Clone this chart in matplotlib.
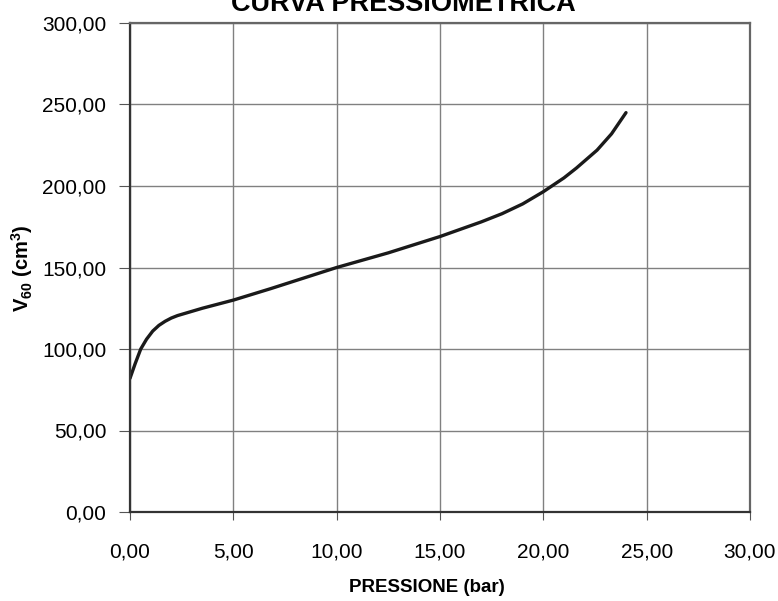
import matplotlib
matplotlib.use('Agg')
import matplotlib.pyplot as plt
from matplotlib.ticker import FuncFormatter, MultipleLocator

plt.rcParams['font.family'] = ['Liberation Sans', 'DejaVu Sans']
plt.rcParams['mathtext.fontset'] = 'custom'
plt.rcParams['mathtext.rm'] = 'Liberation Sans:bold'
plt.rcParams['mathtext.it'] = 'Liberation Sans:bold'
plt.rcParams['mathtext.bf'] = 'Liberation Sans:bold'

# curve
pressione = [0.0, 0.25, 0.52, 0.8, 1.1, 1.4, 1.7, 2.0, 2.3, 3.5, 5.0, 6.8,
             10.0, 12.5, 15.0, 17.0, 18.0, 19.0, 20.0, 21.0, 21.6, 22.6, 23.3, 24.0]
volume = [82.0, 91.0, 100.0, 106.0, 111.0, 114.5, 117.0, 119.0, 120.5, 125.0, 130.0, 137.0,
          150.0, 159.0, 169.0, 178.0, 183.0, 189.0, 196.5, 205.0, 211.0, 222.0, 232.0, 245.0]

fig = plt.figure(figsize=(7.78, 6.01), dpi=100)
ax = fig.add_axes([130/778, 89/601, 620/778, 489/601])

ax.plot(pressione, volume, color='#1a1a1a', lw=2.4, solid_capstyle='round',
        solid_joinstyle='round')

ax.set_xlim(0, 30)
ax.set_ylim(0, 300)
ax.xaxis.set_major_locator(MultipleLocator(5))
ax.yaxis.set_major_locator(MultipleLocator(50))
fmt = FuncFormatter(lambda v, pos: ('%.2f' % v).replace('.', ','))
ax.xaxis.set_major_formatter(fmt)
ax.yaxis.set_major_formatter(fmt)
ax.grid(True, color='#808080', lw=1.0)
ax.set_axisbelow(True)

ax.tick_params(axis='x', direction='out', length=6, pad=16, labelsize=15, color='#555555')
ax.tick_params(axis='y', direction='out', length=8, pad=9, labelsize=15, color='#555555')
for s in ax.spines.values():
    s.set_color('#666666')
    s.set_linewidth(1.6)
ax.spines['left'].set_color('#333333')
ax.spines['bottom'].set_color('#333333')

fig.text(403/778, 1 - 4/601, 'CURVA PRESSIOMETRICA', ha='center', va='center',
         fontsize=19.5, fontweight='bold')
fig.text(427/778, 1 - 588/601, 'PRESSIONE (bar)', ha='center', va='center',
         fontsize=13.5, fontweight='bold')
fig.text(22/778, 1 - 268/601, r'V$_{60}$ (cm$^{3}$)', ha='center', va='center',
         rotation=90, fontsize=14.5, fontweight='bold')

fig.savefig('out.png', dpi=100)
